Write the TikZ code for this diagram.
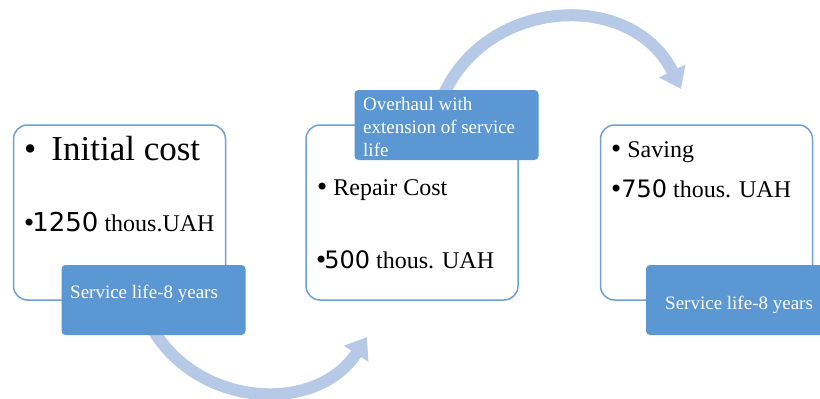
\documentclass[tikz,border=0pt]{standalone}
\usepackage{fontspec}
\setmainfont{Liberation Serif}
\newfontfamily\numfont{DejaVu Sans}
\usetikzlibrary{arrows.meta, positioning}
\definecolor{boxblue}{RGB}{110,160,210}
\definecolor{tabblue}{RGB}{91,151,210}
\definecolor{flowblue}{RGB}{182,202,232}
\newcommand{\amount}[1]{{\numfont\fontsize{24}{28}\selectfont #1}}
\newcommand{\dotitem}{{\numfont •}}
\tikzstyle{block} = [draw=boxblue, line width=1.5pt, fill=white, rounded corners=14pt, minimum width=212pt, minimum height=175pt]
\tikzstyle{tab} = [fill=tabblue, rounded corners=4pt, minimum width=184pt, minimum height=70pt]
\tikzstyle{item} = [anchor=base west, inner sep=0pt, font=\fontsize{24}{28}\selectfont]
\tikzstyle{tabtext} = [anchor=base west, inner sep=0pt, text=white, align=left, font=\fontsize{19}{23}\selectfont]
\tikzstyle{flow} = [draw=flowblue, line width=12pt, -{Triangle[width=28pt,length=20pt]}]

\begin{document}
\begin{tikzpicture}[x=1pt, y=1pt]
    \clip (0,0) rectangle (820,-399);
    % Place the blocks
    \node [block] (cost) at (119.5,-212.5) {};
    \node [block, right=79pt of cost] (repair) {};
    \node [block, right=81pt of repair] (saving) {};

    % Curved arrows between the stages
    \coordinate (down) at (152,-328);
    \coordinate (up) at (367,-337);
    \coordinate (over) at (443,-96);
    \coordinate (next) at (681,-89);
    \draw [flow] (down) to [out=-60, in=-123, looseness=1.10] (up);
    \draw [flow] (over) to [out=66, in=116, looseness=1.18] (next);

    % Labels on the blocks
    \node [tab] (life) at (153.5,-300) {};
    \node [tab] (overhaul) at (446.5,-125) {};
    \node [tab] (lifeext) at (738,-300) {};
    \node [tabtext] at (70,-298) {Service life-8 years};
    \node [tabtext] at (363,-156) {Overhaul with\\extension of service\\life};
    \node [tabtext] at (665,-309) {Service life-8 years};

    % Bullet text
    \node [item, font=\fontsize{35}{40}\selectfont] (costname) at (24,-160) {•\hspace{15pt}Initial cost};
    \node [item] (costvalue) at (22,-231) {\dotitem\hspace{-4pt}{\numfont\fontsize{26}{30}\selectfont 1250} thous.UAH};
    \node [item] (repairname) at (315,-195) {\dotitem\hspace{4pt}Repair Cost};
    \node [item] (repairvalue) at (314,-268) {\dotitem\hspace{-4pt}\amount{500} thous. UAH};
    \node [item] (savingname) at (609,-157) {\dotitem\hspace{4pt}Saving};
    \node [item] (savingvalue) at (609,-197) {\dotitem\hspace{-2pt}\amount{750} thous. UAH};
\end{tikzpicture}
\end{document}
